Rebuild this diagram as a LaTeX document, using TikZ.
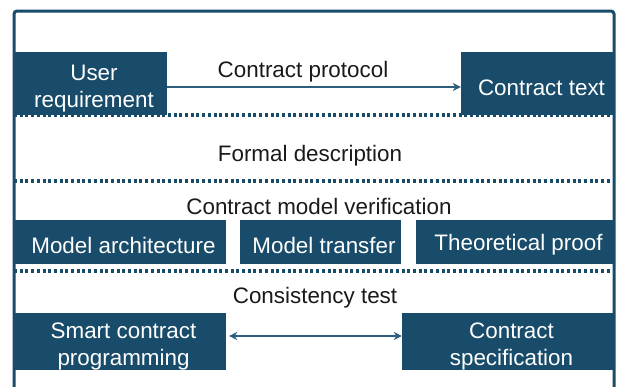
\documentclass[tikz,border=0pt]{standalone}
\usepackage{fontspec}
\setmainfont{Liberation Sans}
\usetikzlibrary{arrows.meta}
\definecolor{boxblue}{HTML}{184C6A}
\definecolor{lineblue}{HTML}{2E5E7E}
\definecolor{txt}{HTML}{1A1A1A}
\newcommand{\twoline}[2]{\hspace*{7pt}\raisebox{-5.5pt}[\height][\depth]{\begin{tabular}{@{}c@{}}#1\\#2\end{tabular}}}
\newcommand{\lowered}[2]{\hspace*{7pt}\raisebox{-#1}[\height][\depth]{#2}}
\tikzset{
  blockbox/.style={fill=boxblue, draw=none, text=white, inner sep=0pt, align=center,
    font=\fontsize{22.4}{26.8}\selectfont},
  caption/.style={text=txt, inner sep=0pt, font=\fontsize{22.4}{26}\selectfont},
  sepline/.style={draw=boxblue, line width=3.2pt, dash pattern=on 3pt off 2.7pt},
  conn/.style={draw=lineblue, line width=1.3pt, -{Stealth[length=8pt,width=8pt]}},
  conn2/.style={draw=lineblue, line width=1.3pt, {Stealth[length=8pt,width=8pt]}-{Stealth[length=8pt,width=8pt]}},
}
\begin{document}
\begin{tikzpicture}[x=1pt,y=-1pt]
\useasboundingbox (0,0) rectangle (619,386);
\clip (0,0) rectangle (619,386);
\fill[white] (0,0) rectangle (619,386);
% separators
\coordinate (s1l) at (14,115); \coordinate (s1r) at (614,115);
\coordinate (s2l) at (14,181); \coordinate (s2r) at (614,181);
\coordinate (s3l) at (14,271); \coordinate (s3r) at (612,271);
\draw[sepline] (s1l) -- (s1r);
\draw[sepline] (s2l) -- (s2r);
\draw[sepline] (s3l) -- (s3r);
% frame
\coordinate (fbl) at (14,395); \coordinate (ftl) at (14,11);
\coordinate (ftr) at (614,11); \coordinate (fbr) at (614,395);
\draw[boxblue, line width=3pt, rounded corners=3pt] (fbl) -- (ftl) -- (ftr) -- (fbr);
% boxes
\node[blockbox, minimum width=153pt, minimum height=63pt] (ur) at (90.5,83.5) {\twoline{User}{requirement}};
\node[blockbox, minimum width=154pt, minimum height=63pt] (ct) at (538,83.5) {\lowered{4pt}{Contract text}};
\node[blockbox, minimum width=212pt, minimum height=44pt] (ma) at (120,242) {\lowered{3pt}{Model architecture}};
\node[blockbox, minimum width=161pt, minimum height=44pt] (mt) at (320.5,242) {\lowered{3pt}{Model transfer}};
\node[blockbox, minimum width=198pt, minimum height=44pt] (tp) at (515,242) {\lowered{3pt}{Theoretical proof}};
\node[blockbox, minimum width=212pt, minimum height=57pt] (scp) at (120,341.5) {\twoline{Smart contract}{programming}};
\node[blockbox, minimum width=212pt, minimum height=57pt] (cs) at (508,341.5) {\twoline{Contract}{specification}};
% captions
\node[caption] (cp) at (303,72) {Contract protocol};
\node[caption] (fd) at (310,156) {Formal description};
\node[caption] (cmv) at (319,206) {Contract model verification};
\node[caption] (ctst) at (315,298) {Consistency test};
% connectors
\draw[conn] (ur.east |- 0,87) -- (ct.west |- 0,87);
\draw[conn2, shorten <=3pt] (scp.east |- 0,336) -- (cs.west |- 0,336);
\end{tikzpicture}
\end{document}
